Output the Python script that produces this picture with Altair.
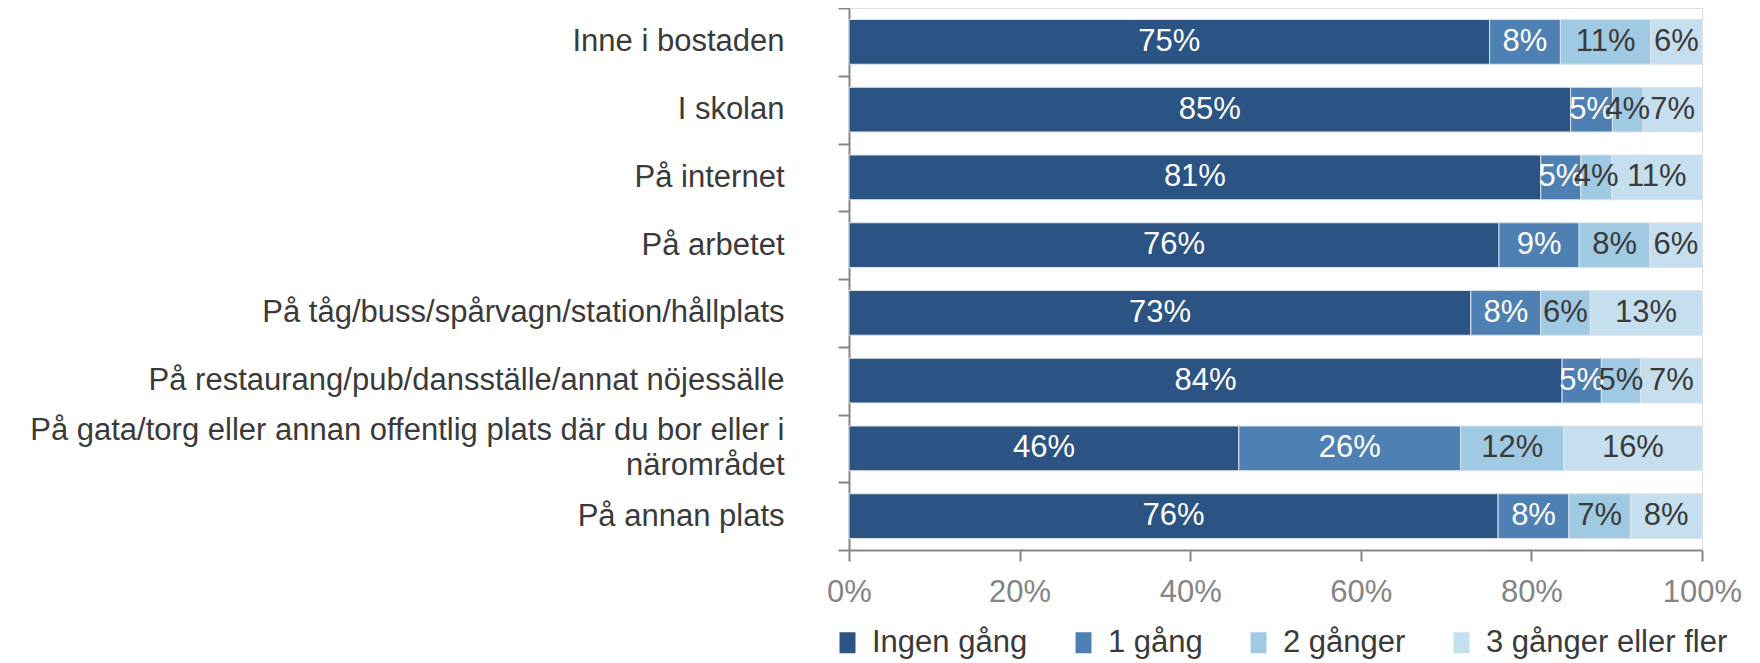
import altair as alt
import pandas as pd

categories = [
    "Inne i bostaden",
    "I skolan",
    "På internet",
    "På arbetet",
    "På tåg/buss/spårvagn/station/hållplats",
    "På restaurang/pub/dansställe/annat nöjessälle",
    "På gata/torg eller annan offentlig plats där du bor eller i närområdet",
    "På annan plats",
]
series = ["Ingen gång", "1 gång", "2 gånger", "3 gånger eller fler"]
ingen = [75.1, 84.6, 81.1, 76.2, 72.9, 83.6, 45.7, 76.1]
en = [8.3, 4.9, 4.7, 9.4, 8.2, 4.6, 26.0, 8.3]
tva = [10.6, 3.6, 3.6, 8.3, 5.8, 4.6, 12.1, 7.2]
tre = [6.0, 6.9, 10.6, 6.1, 13.1, 7.2, 16.2, 8.4]
colors = ["#2B5384", "#4F80B3", "#A0C9E3", "#C6DFEE"]
text_colors = ["#FFFFFF", "#FFFFFF", "#3A3A3A", "#3A3A3A"]
tick_values = [0, 0.2, 0.4, 0.6, 0.8, 1.0]
long_label = categories[6]
long_label_lines = ["På gata/torg eller annan offentlig plats där du bor eller i", "närområdet"]

rows = []
for si, (s, vals) in enumerate(zip(series, [ingen, en, tva, tre])):
    for c, v in zip(categories, vals):
        rows.append({"cat": c, "series": s, "order": si, "frac": v / 100.0,
                     "tc": text_colors[si]})
df = pd.DataFrame(rows)

FONT = "Liberation Sans"

base = alt.Chart(df).transform_stack(
    stack="frac", as_=["x0", "x1"], groupby=["cat"],
    sort=[alt.SortField("order", order="ascending")]
).transform_calculate(mid="(datum.x0 + datum.x1) / 2")

label_expr = (
    f"datum.label == '{long_label}' ? "
    f"['{long_label_lines[0]}', '{long_label_lines[1]}'] : datum.label"
)

y_enc = alt.Y(
    "cat:N",
    sort=categories,
    scale=alt.Scale(paddingInner=0, paddingOuter=0),
    axis=alt.Axis(
        title=None,
        tickBand="extent",
        tickSize=11,
        tickWidth=2,
        tickColor="#868686",
        domainColor="#868686",
        domainWidth=2,
        labelFont=FONT,
        labelFontSize=31,
        labelColor="#3A3A3A",
        labelPadding=54,
        labelLimit=1000,
        labelOverlap=False,
        labelLineHeight=35,
        labelOffset={"condition": {"test": f"datum.value == '{long_label}'", "value": -17.5}, "value": 0},
        labelExpr=label_expr,
    ),
)

bars = base.mark_bar(stroke="#DDE3EA", strokeWidth=1, height=alt.RelativeBandSize(0.66)).encode(
    x=alt.X(
        "x0:Q",
        scale=alt.Scale(domain=[0, 1], nice=False),
        axis=alt.Axis(
            title=None,
            values=tick_values,
            format=".0%",
            grid=False,
            tickSize=11,
            tickWidth=2,
            tickColor="#868686",
            domainColor="#868686",
            domainWidth=2,
            labelFont=FONT,
            labelFontSize=31,
            labelColor="#858585",
            labelPadding=16,
            labelFlush=False,
            labelOverlap=False,
        ),
    ),
    x2="x1:Q",
    y=y_enc,
    color=alt.Color(
        "series:N",
        scale=alt.Scale(domain=series, range=colors),
        legend=alt.Legend(
            title=None,
            orient="none",
            direction="horizontal",
            legendX=-17,
            legendY=619,
            padding=0,
            symbolType="M-0.76,-1H0.76V1H-0.76Z",
            symbolSize=441,
            symbolStrokeWidth=0,
            labelFont=FONT,
            labelFontSize=31,
            labelColor="#3A3A3A",
            labelOffset=9,
            labelLimit=1000,
            columnPadding=40,
        ),
    ),
    order=alt.Order("order:Q"),
)

labels = base.mark_text(font=FONT, fontSize=31, baseline="middle", align="center").encode(
    x=alt.X("mid:Q"),
    y=alt.Y("cat:N", sort=categories),
    text=alt.Text("frac:Q", format=".0%"),
    color=alt.Color("tc:N", scale=None),
)

chart = (
    alt.layer(bars, labels)
    .properties(
        width=853,
        height=542,
        padding={"left": 841, "top": 0, "right": 46, "bottom": 112},
        autosize=alt.AutoSizeParams(type="none"),
    )
    .configure_view(stroke=None)
    .configure(background="white")
)

chart.save("out.html", embed_options={"renderer": "svg", "actions": False})
